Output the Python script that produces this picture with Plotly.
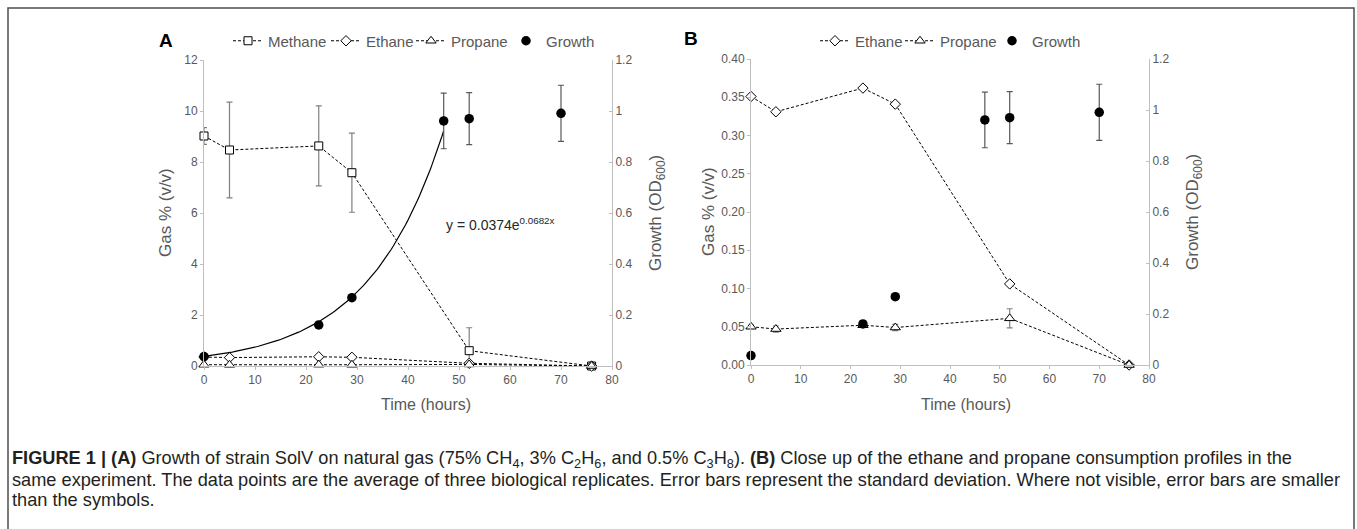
import numpy as np
import plotly.graph_objects as go

W, H = 1357, 529

# ---------------- data ----------------
gas_time = [0, 5, 22.5, 29, 52, 76]
methane = [9.02, 8.47, 8.63, 7.58, 0.60, 0.0]
methane_sd = [0.33, 1.88, 1.57, 1.55, 0.90, 0.0]
ethane = [0.351, 0.331, 0.362, 0.341, 0.106, 0.0]
propane = [0.050, 0.047, 0.052, 0.049, 0.061, 0.0]
propane_sd = [0.002, 0.004, 0.003, 0.004, 0.0125, 0.0]

growth_time = [0, 22.5, 29, 47, 52, 70]
growth = [0.037, 0.161, 0.268, 0.961, 0.970, 0.991]
growth_sd = [0.0, 0.0, 0.0, 0.109, 0.102, 0.110]

fit_a = 0.0374
fit_b = 0.0682
fit_end = 47

caption_lines = [
    "<b>FIGURE 1 | (A)</b> Growth of strain SolV on natural gas (75% CH<sub>4</sub>, 3% C<sub>2</sub>H<sub>6</sub>, and 0.5% C<sub>3</sub>H<sub>8</sub>). <b>(B)</b> Close up of the ethane and propane consumption profiles in the",
    "same experiment. The data points are the average of three biological replicates. Error bars represent the standard deviation. Where not visible, error bars are smaller",
    "than the symbols.",
]

# ---------------- style ----------------
FONT = "Liberation Sans, Arial, sans-serif"
GREY_TXT = "#595959"
AX = "#bfbfbf"
DASH = "3px,2px"

def px_x(p):
    return p / W

def px_y(p):
    return 1 - p / H

fig = go.Figure()

def gas_marker(symbol, size):
    return dict(symbol=symbol, size=size, color="white", line=dict(color="black", width=1))

# ---- Panel A ----
fig.add_trace(go.Scatter(
    x=gas_time, y=methane, name="Methane", mode="lines+markers",
    line=dict(color="black", width=1, dash=DASH), marker=gas_marker("square", 8),
    error_y=dict(type="data", array=methane_sd, color="#808080", thickness=1.2, width=3),
    xaxis="x", yaxis="y", legend="legend", legendwidth=53, cliponaxis=False))
fig.add_trace(go.Scatter(
    x=gas_time, y=ethane, name="Ethane", mode="lines+markers",
    line=dict(color="black", width=1, dash=DASH), marker=gas_marker("diamond", 8),
    xaxis="x", yaxis="y", legend="legend", legendwidth=40, cliponaxis=False))
fig.add_trace(go.Scatter(
    x=gas_time, y=propane, name="Propane", mode="lines+markers",
    line=dict(color="black", width=1, dash=DASH), marker=gas_marker("triangle-up", 9),
    xaxis="x", yaxis="y", legend="legend", legendwidth=50, cliponaxis=False))
fit_x = np.linspace(0, fit_end, 120)
fig.add_trace(go.Scatter(
    x=fit_x, y=fit_a * np.exp(fit_b * fit_x), mode="lines", showlegend=False,
    line=dict(color="black", width=1.2), xaxis="x", yaxis="y2", hoverinfo="skip"))
fig.add_trace(go.Scatter(
    x=growth_time, y=growth, name="Growth", mode="markers",
    marker=dict(symbol="circle", size=9.5, color="black"),
    error_y=dict(type="data", array=growth_sd, color="#595959", thickness=1.2, width=3),
    xaxis="x", yaxis="y2", legend="legend", legendwidth=50, cliponaxis=False))

# ---- Panel B ----
fig.add_trace(go.Scatter(
    x=gas_time, y=ethane, name="Ethane", mode="lines+markers",
    line=dict(color="black", width=1, dash=DASH), marker=gas_marker("diamond", 8),
    xaxis="x2", yaxis="y3", legend="legend2", legendwidth=40, cliponaxis=False))
fig.add_trace(go.Scatter(
    x=gas_time, y=propane, name="Propane", mode="lines+markers",
    line=dict(color="black", width=1, dash=DASH), marker=gas_marker("triangle-up", 9),
    error_y=dict(type="data", array=propane_sd, color="#808080", thickness=1.2, width=3),
    xaxis="x2", yaxis="y3", legend="legend2", legendwidth=47, cliponaxis=False))
fig.add_trace(go.Scatter(
    x=growth_time, y=growth, name="Growth", mode="markers",
    marker=dict(symbol="circle", size=9.5, color="black"),
    error_y=dict(type="data", array=growth_sd, color="#595959", thickness=1.2, width=3),
    xaxis="x2", yaxis="y4", legend="legend2", legendwidth=50, cliponaxis=False))

tickfont = dict(family=FONT, size=12, color=GREY_TXT)

def xaxis(domain, anchor):
    return dict(domain=domain, anchor=anchor, range=[0, 80], dtick=10, showgrid=False,
                zeroline=False, showline=True, linecolor=AX, linewidth=1,
                ticks="outside", ticklen=3, tickcolor=AX, tickfont=tickfont)

def yaxis(domain, anchor, rng, dtick, side="left", overlaying=None, fmt=None):
    d = dict(domain=domain, anchor=anchor, range=rng, dtick=dtick, showgrid=False,
             zeroline=False, showline=True, linecolor=AX, linewidth=1, side=side,
             ticks="outside" if side == "left" else "inside", ticklen=3, tickcolor=AX,
             tickfont=tickfont)
    if overlaying:
        d["overlaying"] = overlaying
    if fmt:
        d["tickformat"] = fmt
    return d

xA = [px_x(204), px_x(612)]
xB = [px_x(751), px_x(1149)]
yA = [px_y(366), px_y(60)]
yB = [px_y(365), px_y(59)]

legend_common = dict(orientation="h", font=dict(family=FONT, size=15, color=GREY_TXT),
                     bgcolor="rgba(0,0,0,0)", itemwidth=30, yanchor="middle",
                     xanchor="left", traceorder="normal", xref="container",
                     yref="container")

fig.update_layout(
    width=W, height=H, margin=dict(l=0, r=0, t=0, b=0, autoexpand=False),
    paper_bgcolor="white", plot_bgcolor="white",
    xaxis=xaxis(xA, "y"),
    yaxis=yaxis(yA, "x", [0, 12], 2),
    yaxis2=yaxis(yA, "x", [0, 1.2], 0.2, side="right", overlaying="y"),
    xaxis2=xaxis(xB, "y3"),
    yaxis3=yaxis(yB, "x2", [0, 0.4], 0.05, fmt=".2f"),
    yaxis4=yaxis(yB, "x2", [0, 1.2], 0.2, side="right", overlaying="y3"),
    legend=dict(x=px_x(228), y=px_y(41), **legend_common),
    legend2=dict(x=px_x(815), y=px_y(41), **legend_common),
    showlegend=True,
)

ann = []
ytitle_font = dict(family=FONT, size=17, color=GREY_TXT)
xtitle_font = dict(family=FONT, size=16, color=GREY_TXT)
# panel letters
ann.append(dict(text="<b>A</b>", x=px_x(166), y=px_y(40), xref="paper", yref="paper",
                showarrow=False, xanchor="center", yanchor="middle",
                font=dict(family=FONT, size=19, color="black")))
ann.append(dict(text="<b>B</b>", x=px_x(691), y=px_y(38), xref="paper", yref="paper",
                showarrow=False, xanchor="center", yanchor="middle",
                font=dict(family=FONT, size=19, color="black")))
# axis titles
for txt, xp, yp, ang, fnt in [
    ("Gas % (v/v)", 165, 213, -90, ytitle_font),
    ("Growth (OD<sub>600</sub>)", 657, 213, -90, ytitle_font),
    ("Gas % (v/v)", 708, 212, -90, ytitle_font),
    ("Growth (OD<sub>600</sub>)", 1194, 212, -90, ytitle_font),
    ("Time (hours)", 426, 404, 0, xtitle_font),
    ("Time (hours)", 966, 404, 0, xtitle_font),
]:
    ann.append(dict(text=txt, x=px_x(xp), y=px_y(yp), xref="paper", yref="paper",
                    showarrow=False, textangle=ang, font=fnt,
                    xanchor="center", yanchor="middle"))
# equation
ann.append(dict(text="y = 0.0374e<sup>0.0682x</sup>", x=px_x(444), y=px_y(224),
                xref="paper", yref="paper", showarrow=False, xanchor="left",
                yanchor="middle", font=dict(family=FONT, size=14, color="#262626")))
# caption, one annotation per line
for line, yp in zip(caption_lines, [459, 480, 500]):
    ann.append(dict(text=line, x=px_x(10), y=px_y(yp),
                    xref="paper", yref="paper", showarrow=False, xanchor="left",
                    yanchor="middle", align="left",
                    font=dict(family=FONT, size=18.2, color="#231f20")))
fig.update_layout(annotations=ann)

# frame
fig.add_shape(type="rect", xref="paper", yref="paper",
              x0=px_x(8), x1=px_x(1354), y0=px_y(540), y1=px_y(8),
              line=dict(color="#4d4d4d", width=1.5), fillcolor="rgba(0,0,0,0)", layer="below")

fig.write_html("out.html")
